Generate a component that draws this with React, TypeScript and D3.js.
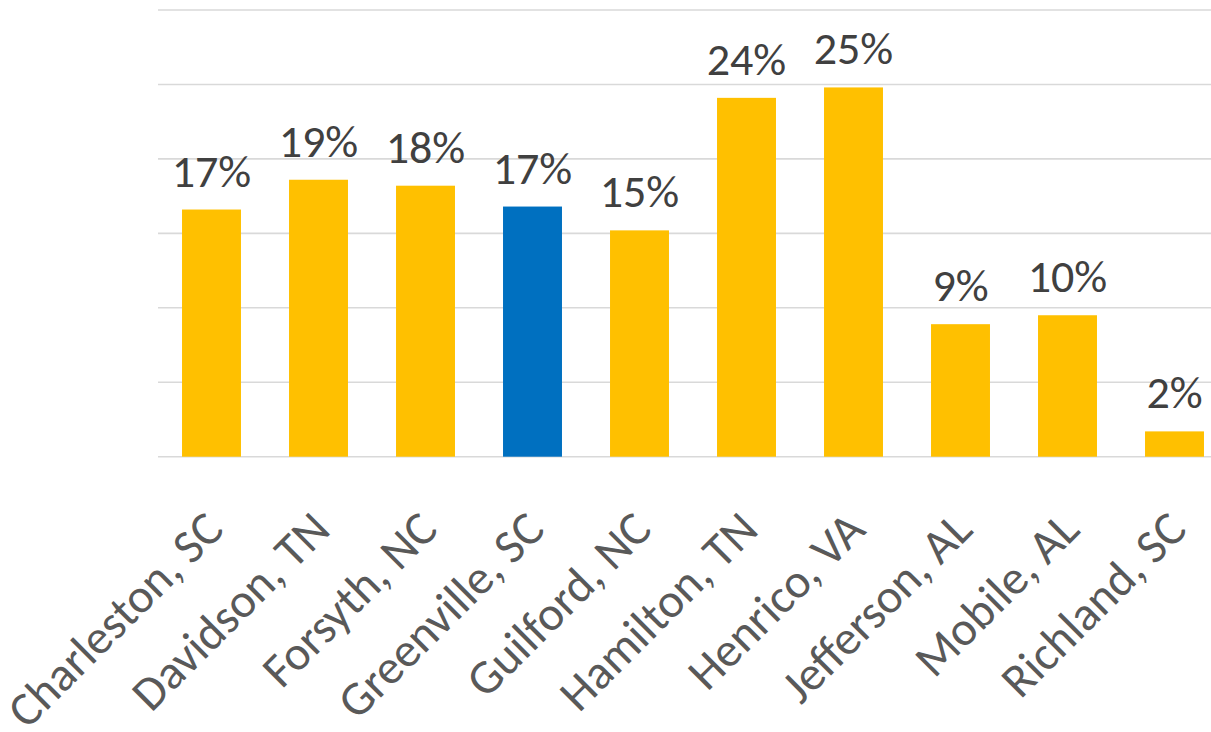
import { useEffect, useRef } from 'react'
import * as d3 from 'd3'

const categories = [
  'Charleston, SC',
  'Davidson, TN',
  'Forsyth, NC',
  'Greenville, SC',
  'Guilford, NC',
  'Hamilton, TN',
  'Henrico, VA',
  'Jefferson, AL',
  'Mobile, AL',
  'Richland, SC',
]
const values = [16.6, 18.6, 18.2, 16.8, 15.2, 24.1, 24.8, 8.9, 9.5, 1.7]
const highlighted = ['Greenville, SC']
const gridTicks = [0, 5, 10, 15, 20, 25, 30]

const WIDTH = 1211
const HEIGHT = 732
const FONT = 'Carlito, Calibri, Lato, sans-serif'

export default function App() {
  const svgRef = useRef<SVGSVGElement>(null)

  useEffect(() => {
    const svg = d3.select(svgRef.current)
    svg.selectAll('*').remove()

    const data = categories.map((c, i) => ({ label: c, value: values[i] }))

    const x = d3
      .scaleBand()
      .domain(categories)
      .range([158, 1228])
      .paddingInner(0.449)
      .paddingOuter(0.2245)

    const y = d3.scaleLinear().domain([0, 30]).range([456.7, 10])

    // gridlines
    svg
      .append('g')
      .selectAll('line')
      .data(gridTicks)
      .join('line')
      .attr('x1', 158)
      .attr('x2', WIDTH)
      .attr('y1', (d) => y(d))
      .attr('y2', (d) => y(d))
      .attr('stroke', '#d9d9d9')
      .attr('stroke-width', 1.6)

    svg
      .append('g')
      .selectAll('rect')
      .data(data)
      .join('rect')
      .attr('x', (d) => x(d.label)!)
      .attr('width', x.bandwidth())
      .attr('y', (d) => y(d.value))
      .attr('height', (d) => y(0) - y(d.value))
      .attr('fill', (d) => (highlighted.includes(d.label) ? '#0070c0' : '#ffc000'))

    // value labels
    svg
      .append('g')
      .selectAll('text')
      .data(data)
      .join('text')
      .attr('x', (d) => x(d.label)! + x.bandwidth() / 2)
      .attr('y', (d) => y(d.value) - 23)
      .attr('text-anchor', 'middle')
      .attr('font-family', FONT)
      .attr('font-size', 46)
      .attr('fill', '#404040')
      .text((d) => `${Math.round(d.value)}%`)

    // category labels, rotated
    svg
      .append('g')
      .selectAll('text')
      .data(data)
      .join('text')
      .attr(
        'transform',
        (d) => `translate(${x(d.label)! + x.bandwidth() / 2 + 14},532) rotate(-45)`
      )
      .attr('text-anchor', 'end')
      .attr('font-family', FONT)
      .attr('font-size', 48)
      .attr('fill', '#595959')
      .text((d) => d.label)
  }, [])

  return (
    <svg
      ref={svgRef}
      width={WIDTH}
      height={HEIGHT}
      style={{ position: 'absolute', left: 0, top: 0, background: '#fff' }}
    />
  )
}
